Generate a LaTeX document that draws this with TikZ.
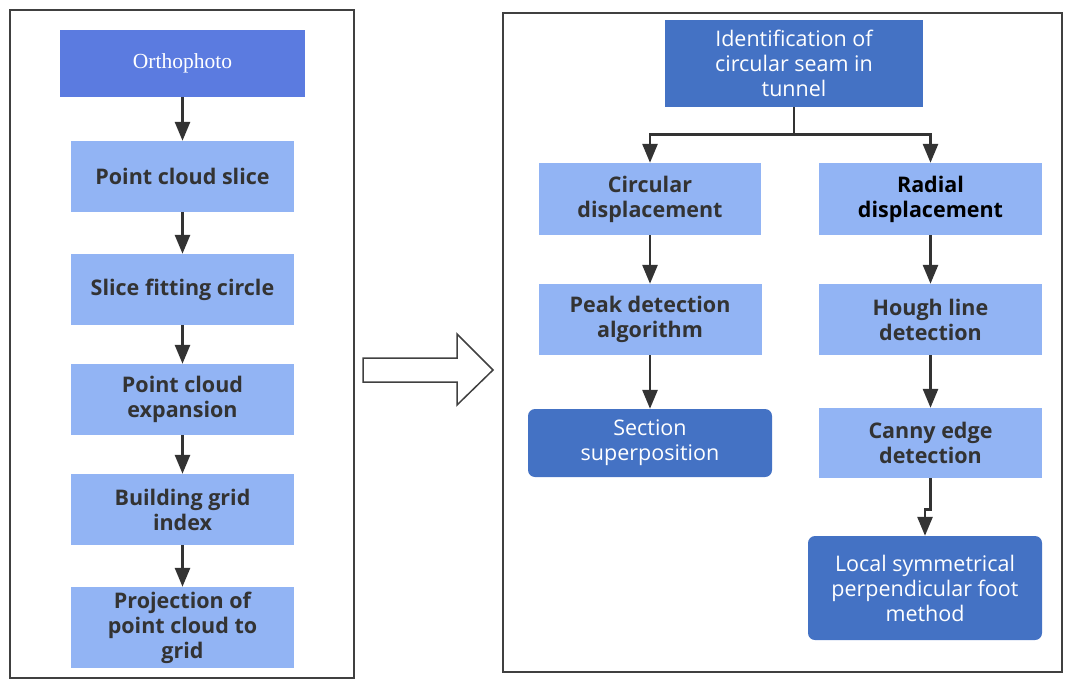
\documentclass[tikz,border=0pt]{standalone}
\usepackage{fontspec}
\setmainfont{Liberation Serif}
\newfontfamily\boxfont{Open Sans}
\usetikzlibrary{arrows.meta}

\definecolor{orthoblue}{RGB}{91,123,224}
\definecolor{lightblue}{RGB}{146,180,244}
\definecolor{darkblue}{RGB}{68,114,196}
\definecolor{boxtext}{RGB}{51,51,51}
\definecolor{framegray}{RGB}{64,64,64}

\begin{document}
\begin{tikzpicture}[
    x=1pt, y=1pt,
    node distance=113pt,
    topbox/.style={rectangle, fill=orthoblue, text=white, minimum width=245pt, minimum height=67pt, inner sep=0pt, align=center, font=\fontsize{21.5pt}{24pt}\selectfont},
    stepbox/.style={rectangle, fill=lightblue, text=boxtext, minimum width=223pt, minimum height=71pt, inner sep=0pt, align=center, font=\boxfont\bfseries\fontsize{21.5pt}{25pt}\selectfont},
    darkbox/.style={rectangle, fill=darkblue, text=white, inner sep=0pt, align=center, font=\boxfont\fontsize{21.5pt}{25pt}\selectfont},
    frame/.style={draw=framegray, line width=2pt},
    arrow/.style={->, draw=boxtext, line width=2.8pt, >={Triangle[length=19pt, width=15pt]}}
]
    \useasboundingbox (0,0) rectangle (1081,-682);

    \draw[frame] (10,-10) rectangle (354,-678);
    \draw[frame] (503,-13) rectangle (1062,-672);

    \node[topbox] (ortho) at (182.5,-63.5) {\raisebox{-3pt}{Orthophoto}};
    \node[stepbox, below of=ortho] (slice) {Point cloud slice};
    \node[stepbox, below of=slice] (fitting) {Slice fitting circle};
    \node[stepbox, below of=fitting, yshift=3pt] (expansion) {Point cloud\\expansion};
    \node[stepbox, below of=expansion, yshift=3pt] (grid) {Building grid\\index};
    \node[stepbox, below of=grid, yshift=-5pt, minimum height=81pt] (projection) {Projection of\\point cloud to\\grid};

    \draw[arrow] (ortho) -- (slice);
    \draw[arrow] (slice) -- (fitting);
    \draw[arrow] (fitting) -- (expansion);
    \draw[arrow] (expansion) -- (grid);
    \draw[arrow] (grid) -- (projection);

    \draw[draw=framegray, line width=1.5pt, fill=white] (363,-358) -- (457,-358) -- (457,-334) -- (493,-370) -- (457,-405) -- (457,-382) -- (363,-382) -- cycle;

    \node[darkbox, minimum width=258pt, minimum height=87pt] (ident) at (794,-63.5) {Identification of\\circular seam in\\tunnel};
    \node[stepbox, node distance=122pt, below of=ident, xshift=-144pt, yshift=-13.5pt, minimum width=222pt, minimum height=72pt] (circular) {Circular\\displacement};
    \node[stepbox, node distance=280.5pt, right of=circular, text=black, minimum height=72pt] (radial) {Radial\\displacement};
    \node[stepbox, node distance=120.5pt, below of=circular] (peak) {Peak detection\\algorithm};
    \node[stepbox, node distance=120.5pt, below of=radial] (hough) {Hough line\\detection};
    \node[darkbox, node distance=123.5pt, below of=peak, rounded corners=7pt, minimum width=244pt, minimum height=68pt] (section) {Section\\superposition};
    \node[stepbox, node distance=123.5pt, below of=hough, minimum height=70pt] (canny) {Canny edge\\detection};
    \node[darkbox, node distance=145pt, below of=canny, xshift=-5.5pt, rounded corners=7pt, minimum width=234pt, minimum height=104pt] (local) {Local symmetrical\\perpendicular foot\\method};

    \draw[arrow] (ident.south) -- ++(0,-27) -| (circular);
    \draw[arrow] (ident.south) -- ++(0,-27) -| (radial);
    \draw[arrow] (circular) -- (peak);
    \draw[arrow] (peak) -- (section);
    \draw[arrow] (radial) -- (hough);
    \draw[arrow] (hough) -- (canny);
    \draw[arrow] (canny.south) -- ++(0,-31) -| (local);
\end{tikzpicture}
\end{document}
